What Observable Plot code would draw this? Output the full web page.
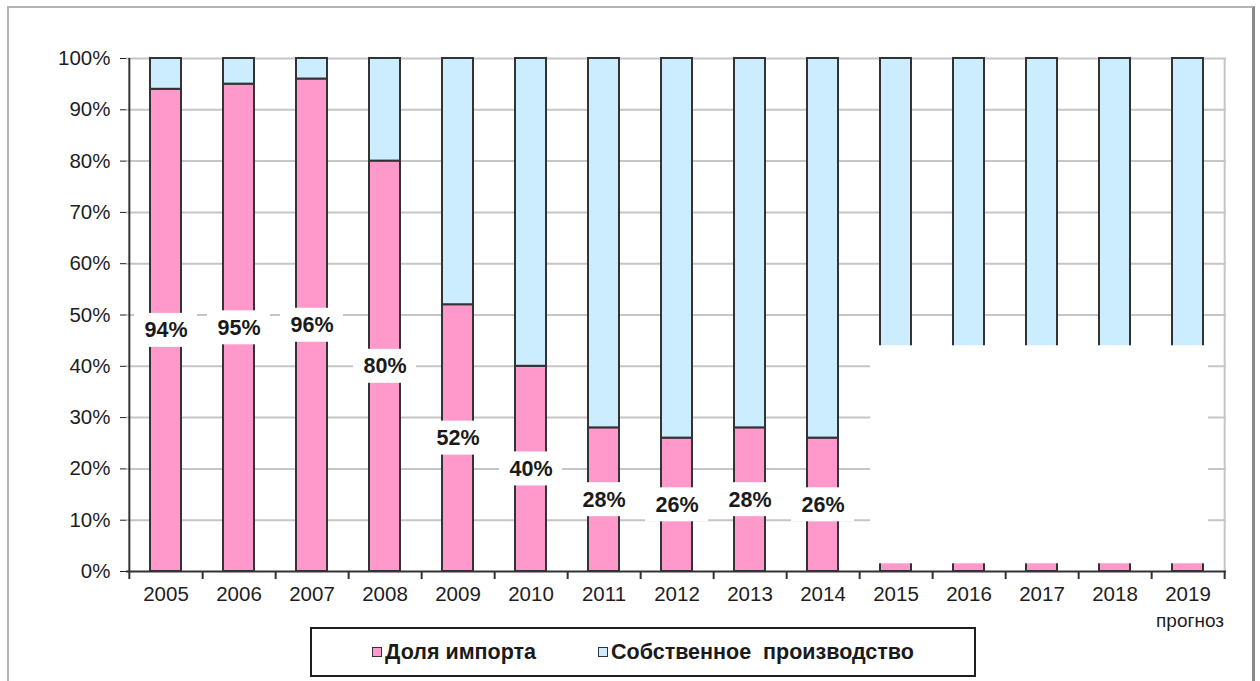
<!DOCTYPE html>
<html>
<head>
<meta charset="utf-8">
<script src="https://cdn.jsdelivr.net/npm/d3@7"></script>
<script src="https://cdn.jsdelivr.net/npm/@observablehq/plot@0.6"></script>
<style>
  html, body { margin: 0; padding: 0; background: #fff; }
  #wrap { position: relative; width: 1260px; height: 681px; overflow: hidden; font-family: "Liberation Sans", Arial, sans-serif; }
  #frame { position: absolute; left: 7px; top: 6px; width: 1243px; height: 720px;
           border-left: 2px solid #b4b4b4; border-top: 2px solid #b4b4b4; border-right: 3px solid #8a8a8a; }
  #chart { position: absolute; left: 0; top: 0; }
  #legend { position: absolute; left: 310px; top: 627px; width: 662px; height: 46px;
            border: 2px solid #1e1e1e; display: flex; align-items: center; justify-content: center; gap: 62px;
            font-size: 21.5px; font-weight: bold; color: #1a1a1a; }
  .item { display: flex; align-items: center; gap: 3px; }
  .sw { width: 8px; height: 8px; border: 1.5px solid #333; display: inline-block; }
</style>
</head>
<body>
<div id="wrap">
  <div id="frame"></div>
  <div id="chart"></div>
  <div id="legend"></div>
</div>
<script>
// ---- data ----
const years = ["2005","2006","2007","2008","2009","2010","2011","2012","2013","2014","2015","2016","2017","2018","2019"];
// import share, %; the 2015–2019 values are hidden under a white panel in the reference (estimates)
const importShare = [94, 95, 96, 80, 52, 40, 28, 26, 28, 26, 26, 25, 24, 23, 22];
const labeledYears = years.slice(0, 10);
const maskedYears = years.slice(10);
const maskRange = [1.5, 44];          // white panel covering 2015–2019 (in % units)
const series = ["Доля импорта", "Собственное  производство"];
const colors = ["#ff99cc", "#ccecff"];
const yTicks = [0, 10, 20, 30, 40, 50, 60, 70, 80, 90, 100];
const forecastYear = "2019";
const forecastNote = "прогноз";

// ---- table ----
const table = years.flatMap((y, i) => [
  {year: y, series: series[0], value: importShare[i]},
  {year: y, series: series[1], value: 100 - importShare[i]}
]);
const labelRows = labeledYears.map((y, i) => ({year: y, value: importShare[i]}));

const W = 1260, H = 626, mL = 126, mR = 34, mT = 58, mB = 55;
const step = (W - mL - mR) / years.length;
const pxPerUnit = (H - mT - mB) / 100;
const boxHalf = 17 / pxPerUnit;
const tickDown = 8 / pxPerUnit;

const plot = Plot.plot({
  width: W, height: H,
  marginLeft: mL, marginRight: mR, marginTop: mT, marginBottom: mB,
  style: {fontFamily: "'Liberation Sans', Arial, sans-serif", fontSize: "20.5px", color: "#1e1e1e", background: "transparent", overflow: "visible"},
  x: {domain: years, paddingInner: 0.58, paddingOuter: 0.29, tickSize: 0, tickPadding: 15, label: null},
  y: {domain: [0, 100], ticks: yTicks, tickFormat: d => d + "%", tickSize: 6, tickPadding: 10, label: null},
  color: {domain: series, range: colors},
  marks: [
    Plot.ruleY(yTicks.slice(1), {stroke: "#c6c6c6", strokeWidth: 2}),
    Plot.barY(table, {x: "year", y: "value", fill: "series", stroke: "#333", strokeWidth: 2}),
    // white panel
    Plot.barY(maskedYears.slice(0, 1), {x: d => d, y1: maskRange[0], y2: maskRange[1], fill: "white", insetLeft: -10, insetRight: -22}),
    Plot.barY(maskedYears.slice(1, -1), {x: d => d, y1: maskRange[0], y2: maskRange[1], fill: "white", insetLeft: -22, insetRight: -22}),
    Plot.barY(maskedYears.slice(-1), {x: d => d, y1: maskRange[0], y2: maskRange[1], fill: "white", insetLeft: -22, insetRight: -5}),
    // label boxes + labels
    Plot.barY(labelRows, {x: "year", y1: d => d.value / 2 - boxHalf, y2: d => d.value / 2 + boxHalf, fill: "white", insetLeft: -16, insetRight: -16}),
    Plot.text(labelRows, {x: "year", y: d => d.value / 2, text: d => d.value + "%", fontWeight: "bold", fontSize: 21.5, fill: "#1a1a1a"}),
    // plot area right border
    Plot.ruleX([years[years.length - 1]], {x: d => d, dx: step / 2, y1: 0, y2: 100, stroke: "#c6c6c6", strokeWidth: 2}),
    // axes lines and category ticks
    Plot.ruleY([0], {stroke: "#333", strokeWidth: 2}),
    Plot.ruleX([years[0]], {x: d => d, dx: -step / 2, y1: -tickDown, y2: 100, stroke: "#333", strokeWidth: 2}),
    Plot.ruleX(years, {x: d => d, dx: step / 2, y1: -tickDown, y2: 0, stroke: "#333", strokeWidth: 2}),
    Plot.text([forecastYear], {x: d => d, y: 0, dy: 49, dx: 2, text: () => forecastNote, fontSize: 19, fill: "#1e1e1e"})
  ]
});
document.getElementById("chart").appendChild(plot);

// legend
const leg = document.getElementById("legend");
series.forEach((s, i) => {
  const it = document.createElement("span");
  it.className = "item";
  const sw = document.createElement("span");
  sw.className = "sw";
  sw.style.background = colors[i];
  const tx = document.createElement("span");
  tx.textContent = s;
  tx.style.whiteSpace = "pre";
  it.appendChild(sw); it.appendChild(tx);
  leg.appendChild(it);
});
</script>
</body>
</html>
